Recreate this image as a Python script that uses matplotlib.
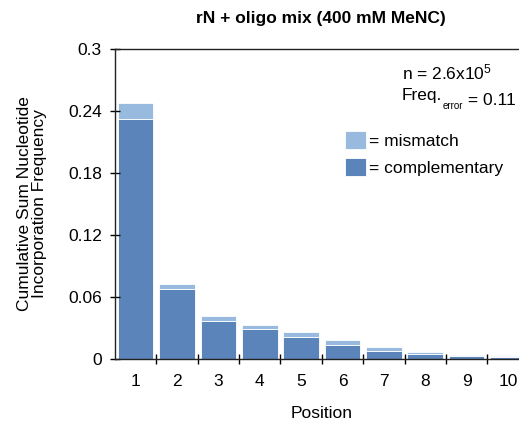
import numpy as np
import matplotlib
matplotlib.use("Agg")
import matplotlib.pyplot as plt

plt.rcParams['font.family'] = ['Liberation Sans', 'DejaVu Sans']
plt.rcParams['mathtext.fontset'] = 'custom'
plt.rcParams['mathtext.rm'] = 'Liberation Sans'
plt.rcParams['mathtext.it'] = 'Liberation Sans'

# data
positions = [1, 2, 3, 4, 5, 6, 7, 8, 9, 10]
complementary = [0.232, 0.0675, 0.037, 0.0286, 0.0212, 0.0138, 0.008, 0.0048, 0.003, 0.002]
total = [0.248, 0.073, 0.0415, 0.033, 0.0257, 0.0183, 0.0113, 0.0065, 0.0042, 0.003]
mismatch = [t - c for t, c in zip(total, complementary)]
yticks = [0, 0.06, 0.12, 0.18, 0.24, 0.3]
ytick_labels = ['0', '0.06', '0.12', '0.18', '0.24', '0.3']

dark = '#5b85ba'
light = '#97bade'
fs = 12.5

fig = plt.figure(figsize=(5.19, 4.23), dpi=100)
ax = fig.add_axes([0.2216, 0.1513, 0.797, 0.7328])

b1 = ax.bar(positions, complementary, width=0.86, color=dark, edgecolor='white', linewidth=0.6)
b2 = ax.bar(positions, mismatch, bottom=complementary, width=0.86, color=light,
            edgecolor='white', linewidth=0.6)

ax.set_xlim(0.5, 10.5)
ax.set_ylim(0, 0.3)
ax.set_yticks(yticks)
ax.set_yticklabels(ytick_labels)
ax.set_xticks(np.arange(1.5, 10.5, 1))
ax.set_xticklabels([])
ax.set_xticks(positions, minor=True)
ax.set_xticklabels([str(p) for p in positions], minor=True)
ax.tick_params(axis='x', which='minor', length=0, labelsize=fs, pad=11)
ax.tick_params(axis='x', which='major', direction='inout', length=7, width=1)
ax.tick_params(axis='y', direction='inout', length=7, width=1, labelsize=fs, pad=6)

ax.spines['right'].set_visible(False)
for s in ['left', 'bottom', 'top']:
    ax.spines[s].set_linewidth(1)
    ax.spines[s].set_color('#222222')

ax.set_xlabel('Position', fontsize=fs, labelpad=12)
ax.set_ylabel('Cumulative Sum Nucleotide\nIncorporation Frequency', fontsize=fs, labelpad=15,
              linespacing=1.05)
fig.text(0.619, 0.957, 'rN + oligo mix (400 mM MeNC)', fontsize=fs, fontweight='bold',
         ha='center', va='center')

# stats box, upper right
ax.text(0.693, 0.923, 'n = 2.6x10$^5$', transform=ax.transAxes, fontsize=fs, va='center')
t1 = ax.text(0.693, 0.835, 'Freq.', transform=ax.transAxes, fontsize=fs, va='baseline')
t2 = ax.annotate('error', xy=(1, 0), xycoords=t1, xytext=(0.5, -4), textcoords='offset points',
                 fontsize=7, va='baseline')
ax.annotate(' = 0.11', xy=(1, 0), xycoords=t2, xytext=(0, 4), textcoords='offset points',
            fontsize=fs, va='baseline')

ax.legend([b2, b1], ['= mismatch', '= complementary'], loc='upper left',
          bbox_to_anchor=(0.556, 0.737), frameon=False, fontsize=fs,
          handlelength=1.2, handleheight=1.25, handletextpad=0.2, labelspacing=0.5,
          borderaxespad=0, borderpad=0)

fig.savefig('out.png', dpi=100)
